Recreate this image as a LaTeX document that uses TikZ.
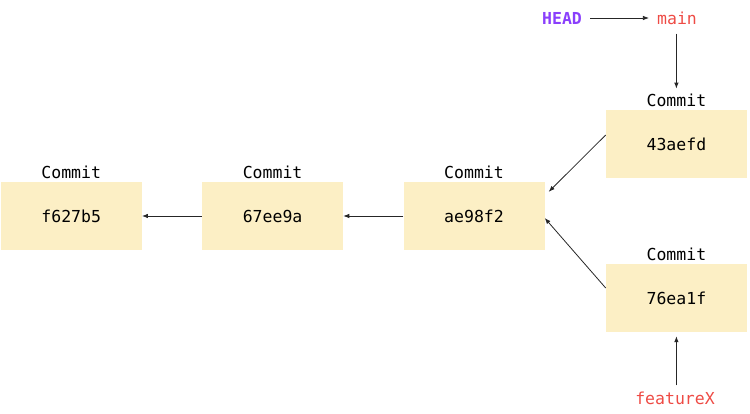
\documentclass[tikz,border=0pt]{standalone}
\usepackage{fontspec}
\setmonofont{DejaVu Sans Mono}
\usepackage{tikz}
\usetikzlibrary{arrows.meta,positioning}
\definecolor{boxfill}{HTML}{FCEFC5}
\definecolor{headpurple}{HTML}{8A3FFC}
\definecolor{branchred}{HTML}{EE4B45}
\tikzset{
    pointer/.style={-{Latex[length=6pt, width=4.5pt]}, line width=0.8pt, black!85},
    commitbox/.style={fill=boxfill, minimum width=141pt, minimum height=68pt, inner sep=0pt, font=\ttfamily\fontsize{16.5}{20}\selectfont},
    commitlabel/.style={inner sep=0pt, font=\ttfamily\fontsize{16.5}{20}\selectfont},
    branchname/.style={inner sep=0pt, text=branchred, font=\ttfamily\fontsize{16.5}{20}\selectfont},
    headname/.style={inner sep=0pt, text=headpurple, font=\ttfamily\bfseries\fontsize{16.5}{20}\selectfont}
}
\begin{document}
\begin{tikzpicture}[x=1pt, y=-1pt, node distance=60pt]
                    \useasboundingbox (0,0) rectangle (750,414);
                    \node[commitbox] (ae98f2) at (474,216) {ae98f2};
                    \node[commitbox, left=of ae98f2] (67ee9a) {67ee9a};
                    \node[commitbox, left=of 67ee9a] (f627b5) {f627b5};
                    \node[commitbox, right=61pt of ae98f2, yshift=72pt] (43aefd) {43aefd};
                    \node[commitbox, right=61pt of ae98f2, yshift=-82pt] (76ea1f) {76ea1f};
                    
                    \foreach \c in {f627b5, 67ee9a, ae98f2, 43aefd, 76ea1f}
                        \node[commitlabel, above=3pt of \c] (\c label) {Commit};
                    
                    \node[headname] (head) at (562,18) {HEAD};
                    \node[branchname] (main) at (677,18) {main};
                    \node[branchname] (featurex) at (675,398) {featureX};
                    
                    \draw[pointer] (67ee9a) -- (f627b5);
                    \draw[pointer] (ae98f2) -- (67ee9a);
                    \draw[pointer] ([yshift=9pt]43aefd.west) -- ([xshift=4pt, yshift=-10pt]ae98f2.north east);
                    \draw[pointer] ([yshift=10pt]76ea1f.west) -- ([yshift=-2pt]ae98f2.east);
                    \draw[pointer, shorten <=8pt, shorten >=8pt] (head) -- (main);
                    \draw[pointer, shorten <=9pt, shorten >=5pt] (main.south -| 43aefdlabel) -- (43aefdlabel.north);
                    \draw[pointer, shorten <=6pt, shorten >=4pt] (featurex.north -| 76ea1f) -- (76ea1f.south);
                \end{tikzpicture}
\end{document}
